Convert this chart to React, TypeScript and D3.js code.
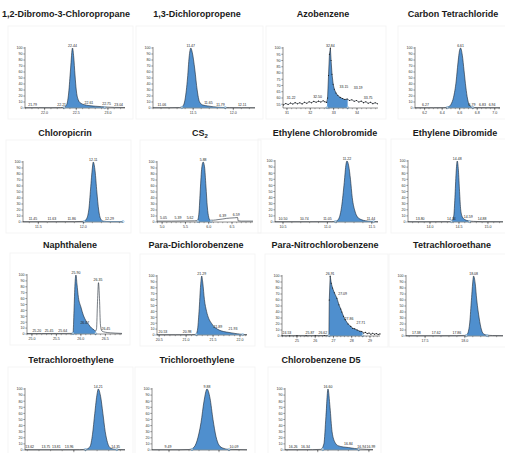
import React from "react";
import * as d3 from "d3";

type Pt = [number, number];
type Lbl = [number, number, string];

// ---- data ----
const titles = [
  "1,2-Dibromo-3-Chloropropane", "1,3-Dichloropropene", "Azobenzene", "Carbon Tetrachloride",
  "Chloropicrin", "CS2", "Ethylene Chlorobromide", "Ethylene Dibromide",
  "Naphthalene", "Para-Dichlorobenzene", "Para-Nitrochlorobenzene", "Tetrachloroethane",
  "Tetrachloroethylene", "Trichloroethylene", "Chlorobenzene D5",
];

const xDomains: [number, number][] = [
  [21.69, 23.27], [11.0, 12.27], [30.83, 34.9], [6.09, 7.06],
  [11.33, 12.44], [4.89, 6.95], [10.41, 11.57], [13.62, 15.26],
  [24.9, 26.84], [20.46, 22.13], [24.18, 29.55], [17.26, 18.48],
  [13.58, 14.44], [9.33, 10.28], [16.18, 17.04],
];

const yDomains: [number, number][] = [
  [0, 100], [0, 100], [52, 100], [0, 100],
  [0, 100], [0, 100], [0, 100], [0, 100],
  [0, 100], [0, 100], [0, 100], [0, 100],
  [0, 100], [0, 100], [0, 100],
];

const yTicksPct = [0, 10, 20, 30, 40, 50, 60, 70, 80, 90, 100];
const yTicksAzo = [55, 60, 65, 70, 75, 80, 85, 90, 95, 100];

const xTicks: number[][] = [
  [22.0, 22.5, 23.0], [11.5, 12.0], [31, 32, 33, 34], [6.2, 6.4, 6.6, 6.8, 7.0],
  [11.5, 12.0], [5.0, 5.5, 6.0, 6.5], [10.5, 11.0, 11.5], [14.0, 14.5, 15.0],
  [25.0, 25.5, 26.0, 26.5], [20.5, 21.0, 21.5, 22.0], [25, 26, 27, 28, 29], [17.5, 18.0],
  [14.0], [9.5, 10.0], [16.5, 17.0],
];
const minorSteps = [0.1, 0.1, 0.2, 0.05, 0.1, 0.1, 0.1, 0.1, 0.1, 0.1, 0.2, 0.1, 0.1, 0.1, 0.1];

const dbcp: Pt[] = [[21.69,0.5],[21.9,0.6],[22.1,0.5],[22.25,0.7],[22.31,1.2],[22.35,6],[22.38,25],[22.41,65],[22.44,100],[22.46,85],[22.48,55],[22.5,30],[22.53,14],[22.57,8],[22.63,5.5],[22.7,4],[22.8,3],[22.9,2.2],[23.0,1.5],[23.1,1],[23.27,0.8]];
const dcp: Pt[] = [[11.0,0.5],[11.2,0.5],[11.33,0.8],[11.37,3],[11.4,15],[11.43,50],[11.45,85],[11.47,100],[11.49,92],[11.52,65],[11.55,30],[11.58,10],[11.62,5],[11.68,3.5],[11.75,2],[11.85,1],[11.95,0.6],[12.1,0.5],[12.27,0.5]];
const azo: Pt[] = [[30.85,54.5],[30.95,55.6],[31.05,54.8],[31.15,56],[31.25,55.2],[31.35,56.3],[31.45,55.4],[31.55,56.2],[31.65,55.3],[31.75,56.6],[31.85,55.8],[31.95,57],[32.05,56.2],[32.15,57.3],[32.25,56.6],[32.35,57.5],[32.45,56.8],[32.55,57.8],[32.62,57],[32.7,56.5],[32.74,60],[32.78,78],[32.82,95],[32.86,100],[32.89,90],[32.93,79],[32.98,71],[33.03,67],[33.1,64],[33.18,62],[33.28,60.5],[33.38,59.6],[33.48,58.8],[33.58,59.2],[33.68,58],[33.78,58.6],[33.88,57.4],[33.98,58],[34.08,56.8],[34.18,57.5],[34.28,56.3],[34.38,57],[34.48,55.8],[34.58,56.6],[34.68,55.5],[34.78,56.2],[34.88,55.4]];
const ccl4: Pt[] = [[6.09,0.4],[6.3,0.5],[6.42,0.6],[6.47,2],[6.5,6],[6.53,18],[6.56,45],[6.58,75],[6.6,97],[6.61,100],[6.63,88],[6.65,62],[6.67,35],[6.69,15],[6.71,5],[6.74,1.5],[6.8,0.6],[7.06,0.5]];
const chloropicrin: Pt[] = [[11.33,0.5],[11.6,0.5],[11.9,0.6],[12.0,1],[12.03,4],[12.06,20],[12.08,55],[12.1,90],[12.11,100],[12.13,85],[12.15,50],[12.17,20],[12.19,6],[12.22,1.5],[12.3,0.6],[12.44,0.5]];
const cs2: Pt[] = [[4.89,1.5],[5.2,1.5],[5.5,1.8],[5.7,2],[5.76,3],[5.79,15],[5.82,55],[5.85,90],[5.88,100],[5.91,92],[5.94,60],[5.97,25],[6.0,8],[6.03,3],[6.1,3],[6.2,4],[6.3,5],[6.38,6],[6.45,6.5],[6.55,7],[6.62,7.5],[6.63,2],[6.7,1.5],[6.95,1.5]];
const ecb: Pt[] = [[10.41,0.5],[10.8,0.5],[11.05,0.6],[11.1,1.5],[11.13,6],[11.16,25],[11.19,65],[11.21,95],[11.22,100],[11.24,92],[11.26,70],[11.28,40],[11.31,18],[11.34,8],[11.38,4],[11.43,2],[11.5,1],[11.57,0.5]];
const edb: Pt[] = [[13.62,0.5],[14.0,0.5],[14.33,0.6],[14.38,2],[14.41,10],[14.43,40],[14.45,80],[14.47,100],[14.49,85],[14.51,50],[14.53,20],[14.56,8],[14.6,4],[14.66,2],[14.75,1],[14.9,0.6],[15.26,0.5]];
const naph: Pt[] = [[24.9,0.8],[25.2,0.8],[25.5,0.9],[25.8,1],[25.84,2],[25.86,40],[25.88,85],[25.9,100],[25.92,85],[25.95,62],[26.0,46],[26.05,32],[26.1,23],[26.16,16],[26.22,10],[26.27,7],[26.3,5],[26.32,9],[26.34,55],[26.36,87],[26.38,60],[26.4,15],[26.43,5],[26.5,3],[26.6,2],[26.7,1.5],[26.84,1]];
const pdcb: Pt[] = [[20.46,0.5],[20.8,0.5],[21.1,0.6],[21.18,1],[21.21,8],[21.24,40],[21.27,85],[21.29,100],[21.31,88],[21.34,60],[21.38,40],[21.42,28],[21.47,20],[21.52,14],[21.58,10],[21.65,7],[21.75,5],[21.85,3.5],[21.95,2],[22.05,1],[22.13,0.6]];
const pncb: Pt[] = [[24.18,0.5],[24.6,0.5],[25.0,0.6],[25.5,0.6],[26.0,0.7],[26.5,0.8],[26.75,1],[26.77,60],[26.82,100],[26.88,88],[26.95,80],[27.05,72],[27.19,63],[27.3,52],[27.4,45],[27.46,40],[27.55,33],[27.65,27],[27.8,20],[27.95,16],[28.05,13],[28.16,12],[28.3,10],[28.45,8],[28.55,7.5],[28.65,5],[28.75,6],[28.85,4],[28.95,5],[29.05,3],[29.15,4.5],[29.25,3],[29.35,4],[29.45,2.5],[29.55,3.5]];
const tcea: Pt[] = [[17.26,0.5],[17.6,0.5],[17.9,0.6],[18.0,1],[18.03,3],[18.06,20],[18.08,55],[18.1,90],[18.11,100],[18.13,88],[18.15,60],[18.18,30],[18.21,10],[18.24,3],[18.28,1.5],[18.35,0.8],[18.48,0.6]];
const perc: Pt[] = [[13.58,0.5],[13.9,0.5],[14.05,0.6],[14.11,1.5],[14.14,6],[14.16,25],[14.18,60],[14.2,92],[14.21,100],[14.23,88],[14.25,60],[14.27,30],[14.29,12],[14.31,4],[14.34,1.5],[14.38,0.8],[14.44,0.6]];
const tce: Pt[] = [[9.33,0.5],[9.6,0.5],[9.7,0.8],[9.74,3],[9.78,15],[9.82,45],[9.85,80],[9.88,100],[9.91,85],[9.94,50],[9.97,22],[10.0,8],[10.04,3],[10.1,1],[10.28,0.5]];
const cbd5: Pt[] = [[16.18,0.5],[16.45,0.6],[16.53,1],[16.56,10],[16.58,55],[16.6,100],[16.62,70],[16.64,30],[16.67,12],[16.7,7],[16.75,5],[16.8,4],[16.86,2.5],[16.92,1.5],[17.04,0.8]];

const curves: Pt[][] = [dbcp, dcp, azo, ccl4, chloropicrin, cs2, ecb, edb, naph, pdcb, pncb, tcea, perc, tce, cbd5];
const noisy = [false, false, true, false, false, false, false, false, false, false, true, false, false, false, false];

const fills: [number, number][] = [
  [22.31, 22.95], [11.36, 11.9], [32.72, 33.6], [6.46, 6.75],
  [12.01, 12.23], [5.77, 6.03], [11.09, 11.52], [14.37, 14.68],
  [25.84, 26.3], [21.19, 22.05], [26.75, 28.6], [18.02, 18.28],
  [14.1, 14.37], [9.73, 10.1], [16.55, 16.9],
];
const baseMarks: [number, number][] = [
  [22.31, 22.95], [11.36, 11.9], [32.72, 33.6], [6.46, 6.75],
  [12.01, 12.44], [5.77, 6.05], [11.09, 11.52], [14.37, 14.68],
  [25.84, 26.3], [21.19, 22.05], [26.75, 28.6], [18.02, 18.28],
  [14.1, 14.37], [9.73, 10.1], [16.55, 16.9],
];

const peakLabels: Lbl[][] = [
  [[21.81,1,"21.79"],[22.27,1,"22.21"],[22.44,100,"22.44"],[22.7,5,"22.61"],[22.98,2,"22.75"],[23.17,1,"23.04"]],
  [[11.11,1,"11.06"],[11.47,100,"11.47"],[11.69,4,"11.65"],[11.84,1.5,"11.79"],[12.11,1,"12.11"]],
  [[31.18,58,"31.22"],[32.31,59,"32.50"],[32.86,100,"32.84"],[33.44,67,"33.15"],[34.05,66,"33.19"],[34.48,58,"33.75"]],
  [[6.21,1,"6.27"],[6.61,100,"6.61"],[6.74,1,"6.79"],[6.86,1,"6.83"],[6.97,1,"6.94"]],
  [[11.44,1,"11.45"],[11.65,1,"11.63"],[11.87,1,"11.86"],[12.11,100,"12.11"],[12.29,1,"12.29"]],
  [[5.03,2,"5.05"],[5.34,2,"5.39"],[5.6,2.5,"5.62"],[5.88,100,"5.88"],[6.3,6,"6.39"],[6.59,8,"6.59"]],
  [[10.5,1,"10.50"],[10.74,1,"10.74"],[11.0,1,"11.05"],[11.22,100,"11.22"],[11.49,1.5,"11.44"]],
  [[13.83,1,"13.80"],[14.37,1.5,"14.34"],[14.47,100,"14.48"],[14.66,4,"14.59"],[14.9,1,"14.88"]],
  [[25.1,1.5,"25.20"],[25.35,1.5,"25.45"],[25.63,1.5,"25.64"],[25.9,100,"25.90"],[26.08,14,"26.07"],[26.35,87,"26.35"],[26.51,5,"26.45"]],
  [[20.57,1,"20.53"],[21.02,1,"20.98"],[21.29,100,"21.29"],[21.59,10,"21.89"],[21.87,6,"21.93"]],
  [[24.45,1,"24.53"],[25.71,1,"25.87"],[26.42,1,"26.62"],[26.82,100,"26.91"],[27.5,66,"27.09"],[27.85,25,"27.86"],[28.5,17,"27.71"]],
  [[17.39,1,"17.38"],[17.64,1,"17.62"],[17.9,1,"17.86"],[18.11,100,"18.08"]],
  [[13.62,1,"13.62"],[13.76,1,"13.75"],[13.85,1,"13.81"],[13.96,1,"13.96"],[14.21,100,"14.21"],[14.36,1,"14.35"]],
  [[9.49,1,"9.49"],[9.88,100,"9.88"],[10.15,1,"10.09"]],
  [[16.26,1,"16.26"],[16.38,1,"16.34"],[16.6,100,"16.60"],[16.8,6,"16.84"],[16.93,1.5,"16.94"],[17.02,1.5,"16.99"]],
];

// ---- layout (pixel frames of each small plot) ----
const frames = [
  { x0: 25, x1: 125, yt: 48, yb: 108, tx: 66, ty: 14 },
  { x0: 153, x1: 255, yt: 48, yb: 108, tx: 197, ty: 14 },
  { x0: 283, x1: 378, yt: 48, yb: 108, tx: 323, ty: 14 },
  { x0: 415, x1: 500, yt: 48, yb: 108, tx: 453, ty: 14 },
  { x0: 23, x1: 123, yt: 162, yb: 222, tx: 65, ty: 133 },
  { x0: 157, x1: 253, yt: 162, yb: 222, tx: 200, ty: 133 },
  { x0: 275, x1: 378, yt: 161, yb: 222, tx: 325, ty: 133 },
  { x0: 408, x1: 503, yt: 161, yb: 222, tx: 455, ty: 133 },
  { x0: 27, x1: 122, yt: 275, yb: 334, tx: 70, ty: 245 },
  { x0: 157, x1: 247, yt: 276, yb: 335, tx: 196, ty: 245 },
  { x0: 282, x1: 380, yt: 276, yb: 336, tx: 325, ty: 245 },
  { x0: 406, x1: 503, yt: 276, yb: 336, tx: 452, ty: 245 },
  { x0: 25, x1: 125, yt: 389, yb: 450, tx: 71, ty: 360 },
  { x0: 152, x1: 247, yt: 389, yb: 450, tx: 197, ty: 360 },
  { x0: 285, x1: 373, yt: 389, yb: 450, tx: 321, ty: 360 },
];

const W = 505;
const H = 453;
const FONT = "Liberation Sans, Arial, sans-serif";
const BLUE = "#4f8fce";

function Title({ i }: { i: number }) {
  const f = frames[i];
  const t = titles[i];
  return (
    <text x={f.tx} y={f.ty + 3.2} textAnchor="middle" fontFamily={FONT} fontWeight="bold" fontSize={9} fill="#1a1a1a">
      {t === "CS2" ? (<>CS<tspan fontSize={6} dy={2}>2</tspan></>) : t}
    </text>
  );
}

function Panel({ i }: { i: number }) {
  const f = frames[i];
  const yd = yDomains[i];
  const x = d3.scaleLinear().domain(xDomains[i]).range([f.x0, f.x1]);
  const y = d3.scaleLinear().domain(yd).range([f.yb, f.yt]);
  const data = curves[i];
  const curve = noisy[i] ? d3.curveLinear : d3.curveMonotoneX;
  const line = d3.line<Pt>().x((d) => x(d[0])).y((d) => y(d[1])).curve(curve);
  const area = d3.area<Pt>().x((d) => x(d[0])).y0(y(yd[0])).y1((d) => y(d[1])).curve(curve);
  const [f0, f1] = fills[i];
  const [b0, b1] = baseMarks[i];
  const yTicks = yd[0] === 0 ? yTicksPct : yTicksAzo;
  const step = minorSteps[i];
  const [dx0, dx1] = xDomains[i];
  const minor = d3.range(Math.ceil(dx0 / step) * step, dx1, step);
  const fmt = xTicks[i].every((v) => Number.isInteger(v)) && step >= 0.2 ? d3.format("d") : d3.format(".1f");
  const showTickText = f.yb + 6 < H;
  const clipId = `clip-${i}`;
  return (
    <g>
      <rect x={f.x0 - 17} y={f.yt - 22} width={f.x1 - f.x0 + 25} height={f.yb - f.yt + 33} fill="none" stroke="#f2f2f2" strokeWidth={0.8} />
      <defs>
        <clipPath id={clipId}>
          <rect x={x(f0)} y={f.yt - 5} width={x(f1) - x(f0)} height={f.yb - f.yt + 5} />
        </clipPath>
      </defs>
      <path d={area(data) || ""} fill={BLUE} clipPath={`url(#${clipId})`} />
      <path d={line(data) || ""} fill="none" stroke="#1d2733" strokeWidth={0.6} />
      {noisy[i] && data.map((d, k) => <circle key={k} cx={x(d[0])} cy={y(d[1])} r={0.55} fill="#111" />)}
      <line x1={x(b0)} x2={x(b1)} y1={f.yb - 0.4} y2={f.yb - 0.4} stroke="#8cc0ec" strokeWidth={0.8} />
      {[b0, b1].map((b, k) => (
        <circle key={k} cx={x(b)} cy={f.yb - 0.4} r={1.1} fill="#fff" stroke="#6aaee6" strokeWidth={0.6} />
      ))}
      {/* y axis */}
      <line x1={f.x0} x2={f.x0} y1={f.yt - 1} y2={f.yb} stroke="#222" strokeWidth={0.5} />
      {yTicks.map((t) => (
        <g key={t}>
          <line x1={f.x0 - 1.8} x2={f.x0} y1={y(t)} y2={y(t)} stroke="#222" strokeWidth={0.4} />
          <text x={f.x0 - 2.5} y={y(t) + 1.3} textAnchor="end" fontFamily={FONT} fontSize={3.6} fill="#333">{t}</text>
        </g>
      ))}
      {/* x axis */}
      <line x1={f.x0} x2={f.x1} y1={f.yb} y2={f.yb} stroke="#222" strokeWidth={0.5} />
      {minor.map((t, k) => (
        <line key={k} x1={x(t)} x2={x(t)} y1={f.yb} y2={f.yb + 1.2} stroke="#222" strokeWidth={0.35} />
      ))}
      {xTicks[i].map((t) => (
        <g key={t}>
          <line x1={x(t)} x2={x(t)} y1={f.yb} y2={f.yb + 2.2} stroke="#222" strokeWidth={0.45} />
          {showTickText && (
            <text x={x(t)} y={f.yb + 6} textAnchor="middle" fontFamily={FONT} fontSize={3.6} fill="#333">{fmt(t)}</text>
          )}
        </g>
      ))}
      {peakLabels[i].map(([t, v, s], k) => (
        <text key={k} x={x(t)} y={y(v) - 1.4} textAnchor="middle" fontFamily={FONT} fontSize={3.5} fill="#222">{s}</text>
      ))}
    </g>
  );
}

export default function App() {
  return (
    <svg width={W} height={H} viewBox={`0 0 ${W} ${H}`} style={{ position: "absolute", left: 0, top: 0, background: "#fff" }}>
      <rect width={W} height={H} fill="#fff" />
      {titles.map((_, i) => (
        <g key={i}>
          <Panel i={i} />
          <Title i={i} />
        </g>
      ))}
    </svg>
  );
}
